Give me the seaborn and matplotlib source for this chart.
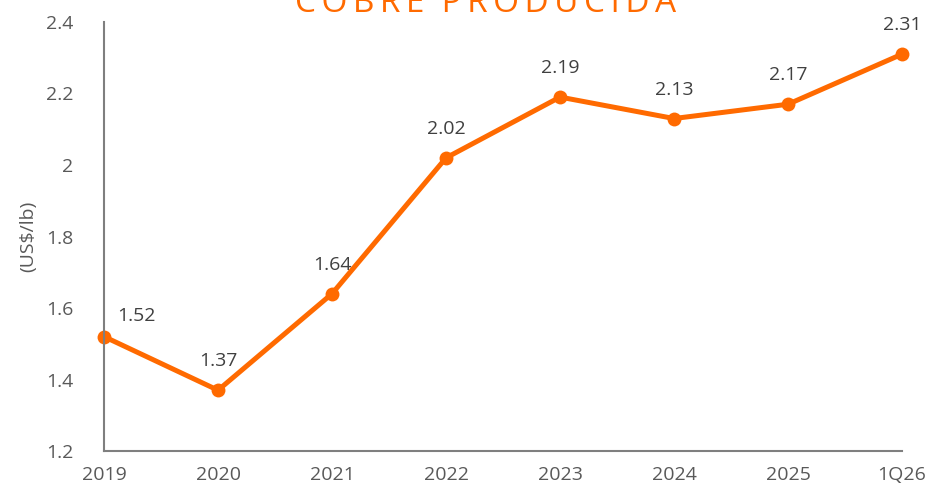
import pandas as pd
import seaborn as sns
import matplotlib.pyplot as plt

# values
periodos = ["2019", "2020", "2021", "2022", "2023", "2024", "2025", "1Q26"]
costo = [1.52, 1.37, 1.64, 2.02, 2.19, 2.13, 2.17, 2.31]
y_ticks = [1.2, 1.4, 1.6, 1.8, 2.0, 2.2, 2.4]
y_tick_labels = ["1.2", "1.4", "1.6", "1.8", "2", "2.2", "2.4"]

df = pd.DataFrame({"periodo": periodos, "costo": costo})
df["x"] = range(len(df))

sns.set_style("white")
plt.rcParams["font.family"] = ["Open Sans", "DejaVu Sans"]

naranja = "#FF6A00"
gris = "#595959"

fig = plt.figure(figsize=(9.33, 4.92), dpi=100)
ax = fig.add_axes([0.1115, 0.0833, 0.8553, 0.872])

sns.lineplot(data=df, x="x", y="costo", ax=ax, color=naranja, linewidth=3.6,
             marker="o", markersize=10, markeredgewidth=0, clip_on=False)

# data labels (first one sits to the right of the point)
for i, row in df.iterrows():
    dx, dy = (32, 12) if i == 0 else (0, 20)
    ax.annotate(f"{row['costo']:.2f}", (row["x"], row["costo"]),
                xytext=(dx, dy), textcoords="offset pixels",
                ha="center", va="bottom", fontsize=14, color="#404040")

ax.set_xlim(0, len(df) - 1)
ax.set_ylim(1.2, 2.4)
ax.set_xticks(df["x"])
ax.set_xticklabels(periodos)
ax.set_yticks(y_ticks)
ax.set_yticklabels(y_tick_labels)
ax.tick_params(axis="both", length=0, labelsize=14, labelcolor=gris)
ax.tick_params(axis="x", pad=11)
ax.tick_params(axis="y", pad=22)
ax.set_xlabel("")
ax.set_ylabel("(US$/lb)", fontsize=14, color=gris, labelpad=6)

for s in ["top", "right"]:
    ax.spines[s].set_visible(False)
for s in ["left", "bottom"]:
    ax.spines[s].set_color("#7f7f7f")
    ax.spines[s].set_linewidth(1.5)

# title, partly cut at top edge as in the source image
fig.text(0.52, 0.9756, "C\u2009O\u2009B\u2009R\u2009E  P\u2009R\u2009O\u2009D\u2009U\u2009C\u2009I\u2009D\u2009A",
         ha="center", va="baseline", fontsize=24, color=naranja)

fig.savefig("out.png", dpi=100)
